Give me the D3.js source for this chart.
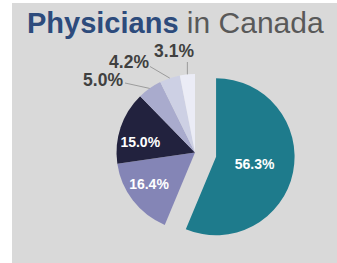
<!DOCTYPE html>
<html>
<head>
<meta charset="utf-8">
<script src="https://cdn.jsdelivr.net/npm/d3@7"></script>
<style>
  html, body { margin: 0; padding: 0; background: #ffffff; }
  svg { display: block; }
</style>
</head>
<body>
<svg id="chart" width="337" height="263"></svg>
<script>
const categories = ["A", "B", "C", "D", "E", "F"];
const values = [56.3, 16.4, 15.0, 5.0, 4.2, 3.1];
const labels = ["56.3%", "16.4%", "15.0%", "5.0%", "4.2%", "3.1%"];
const colors = ["#1e7b8c", "#8485b6", "#22223e", "#a9abcd", "#cdd0e4", "#ebecf6"];

const svg = d3.select("#chart");
const W = 337, H = 263;

svg.append("rect").attr("x", 12).attr("y", 3).attr("width", W - 12).attr("height", H - 3).attr("fill", "#d9d9d9");

const title = svg.append("text").attr("x", 27).attr("y", 33)
  .attr("font-family", "Liberation Sans, Arial, sans-serif").attr("font-size", 29);
title.append("tspan").attr("font-weight", "bold").attr("fill", "#2d4b7c").text("Physicians");
title.append("tspan").attr("fill", "#595959").attr("font-size", 30).text(" in Canada");

const cx = 195, cy = 152.5, R = 78.5, explode = 21.5;

const pie = d3.pie().sort(null).value(d => d.v).startAngle(0).endAngle(2 * Math.PI);
const data = categories.map((c, i) => ({ c, v: values[i], label: labels[i], color: colors[i], i }));
const arcs = pie(data);
const arc = d3.arc().innerRadius(0).outerRadius(R);

const g = svg.append("g").attr("transform", `translate(${cx},${cy})`);

function mid(d) { return (d.startAngle + d.endAngle) / 2; }
function polar(a, r) { return [Math.sin(a) * r, -Math.cos(a) * r]; }

arcs.forEach(d => {
  const off = d.data.i === 0 ? polar(mid(d), explode) : [0, 0];
  d.off = off;
  g.append("path").attr("d", arc(d)).attr("fill", d.data.color)
    .attr("transform", `translate(${off[0]},${off[1]})`);
});

// inside labels
arcs.slice(0, 3).forEach(d => {
  const lr = d.data.i === 0 ? 0.5 * R : 0.71 * R;
  const a = mid(d) + (d.data.i === 0 ? 0 : (d.data.i === 1 ? 0.06 : -0.14));
  const p = polar(a, lr);
  g.append("text").attr("x", p[0] + d.off[0]).attr("y", p[1] + d.off[1])
    .attr("text-anchor", "middle").attr("dominant-baseline", "central")
    .attr("font-family", "Liberation Sans, Arial, sans-serif").attr("font-weight", "bold")
    .attr("font-size", 14).attr("fill", "#ffffff").text(d.data.label);
});

// outside labels: layout relative to pie centre (label anchor, line start, text anchor)
const outLayout = {
  3: { tx: -72, ty: -66.5, anchor: "end", lx: -70, ly: -69.5, elbow: null },
  4: { tx: -46, ty: -84.5, anchor: "end", lx: -45, ly: -86, elbow: null },
  5: { tx: -21, ty: -95.5, anchor: "middle", lx: null, ly: -90.5, elbow: "vertical" }
};
arcs.slice(3).forEach(d => {
  const L = outLayout[d.data.i];
  const p = polar(mid(d), R);
  const start = L.elbow === "vertical" ? [p[0], L.ly] : [L.lx, L.ly];
  g.append("line").attr("x1", start[0]).attr("y1", start[1]).attr("x2", p[0]).attr("y2", p[1])
    .attr("stroke", "#8c8c8c").attr("stroke-width", 0.8);
  g.append("text").attr("x", L.tx).attr("y", L.ty).attr("text-anchor", L.anchor)
    .attr("font-family", "Liberation Sans, Arial, sans-serif").attr("font-weight", "bold")
    .attr("font-size", 17.5).attr("fill", "#404040").text(d.data.label);
});
</script>
</body>
</html>
